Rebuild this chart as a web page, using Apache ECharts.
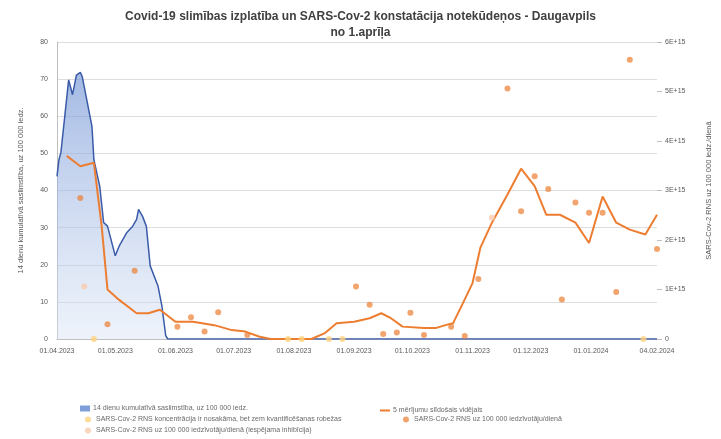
<!DOCTYPE html>
<html>
<head>
<meta charset="utf-8">
<script src="https://cdn.jsdelivr.net/npm/echarts@6/dist/echarts.min.js"></script>
<style>
  html, body { margin: 0; padding: 0; background: #fff; }
  #chart { width: 721px; height: 439px; }
</style>
</head>
<body>
<div id="chart"></div>
<script>
// x axis tick labels
const tickDates = ['2023-04-01', '2023-05-01', '2023-06-01', '2023-07-01', '2023-08-01', '2023-09-01',
  '2023-10-01', '2023-11-01', '2023-12-01', '2024-01-01', '2024-02-04'];

// 14 dienu kumulatīvā saslimstība (left axis)
const incidenceDates = ['2023-04-01', '2023-04-02', '2023-04-03', '2023-04-07', '2023-04-09', '2023-04-11',
  '2023-04-13', '2023-04-14', '2023-04-19', '2023-04-20', '2023-04-23', '2023-04-25', '2023-04-27',
  '2023-05-01', '2023-05-03', '2023-05-07', '2023-05-10', '2023-05-12', '2023-05-13', '2023-05-15',
  '2023-05-17', '2023-05-19', '2023-05-23', '2023-05-25', '2023-05-27', '2023-05-28', '2024-02-04'];
const incidenceValues = [43.8, 48.3, 50.2, 69.8, 65.8, 71.1, 71.8, 70.7, 57.3, 48.3, 41.2, 31.4, 30.4,
  22.4, 25.0, 28.7, 30.4, 32.2, 34.9, 33.1, 30.4, 19.7, 14.3, 8.9, 0.9, 0, 0];

// 5 mērījumu slīdošais vidējais (right axis)
const avgDates = ['2023-04-06', '2023-04-13', '2023-04-17', '2023-04-20', '2023-04-24', '2023-04-27',
  '2023-05-03', '2023-05-12', '2023-05-18', '2023-05-24', '2023-06-01', '2023-06-10', '2023-06-21',
  '2023-06-30', '2023-07-07', '2023-07-14', '2023-07-20', '2023-08-03', '2023-08-10', '2023-08-17',
  '2023-08-23', '2023-09-01', '2023-09-09', '2023-09-15', '2023-09-20', '2023-09-26', '2023-10-07',
  '2023-10-13', '2023-10-18', '2023-10-22', '2023-10-27', '2023-11-01', '2023-11-05', '2023-11-11',
  '2023-11-19', '2023-11-26', '2023-12-03', '2023-12-09', '2023-12-16', '2023-12-24', '2023-12-31',
  '2024-01-07', '2024-01-14', '2024-01-21', '2024-01-29', '2024-02-04'];
const avgValues = [3.70e15, 3.49e15, 3.53e15, 3.56e15, 2.28e15, 1.00e15, 0.79e15, 0.52e15, 0.52e15,
  0.59e15, 0.35e15, 0.35e15, 0.28e15, 0.18e15, 0.15e15, 0.05e15, 0, 0, 0, 0.12e15, 0.32e15, 0.35e15,
  0.42e15, 0.52e15, 0.42e15, 0.25e15, 0.22e15, 0.22e15, 0.28e15, 0.32e15, 0.72e15, 1.13e15, 1.84e15,
  2.35e15, 2.92e15, 3.44e15, 3.09e15, 2.51e15, 2.51e15, 2.35e15, 1.94e15, 2.88e15, 2.35e15, 2.21e15,
  2.11e15, 2.51e15];

// SARS-Cov-2 RNS uz 100 000 iedz./dienā (right axis)
const rnaDates = ['2023-04-13', '2023-04-27', '2023-05-11', '2023-06-02', '2023-06-09', '2023-06-16',
  '2023-06-23', '2023-07-08', '2023-09-02', '2023-09-09', '2023-09-16', '2023-09-23', '2023-09-30',
  '2023-10-07', '2023-10-21', '2023-10-28', '2023-11-04', '2023-11-19', '2023-11-26', '2023-12-03',
  '2023-12-10', '2023-12-17', '2023-12-24', '2023-12-31', '2024-01-07', '2024-01-14', '2024-01-21',
  '2024-02-04'];
const rnaValues = [2.85e15, 0.30e15, 1.38e15, 0.25e15, 0.44e15, 0.15e15, 0.54e15, 0.08e15, 1.06e15,
  0.69e15, 0.10e15, 0.13e15, 0.53e15, 0.08e15, 0.25e15, 0.06e15, 1.21e15, 5.06e15, 2.58e15, 3.29e15,
  3.03e15, 0.80e15, 2.76e15, 2.55e15, 2.55e15, 0.95e15, 5.64e15, 1.82e15];

// below quantification limit
const lowDates = ['2023-04-20', '2023-07-29', '2023-08-05', '2023-08-19', '2023-08-26', '2024-01-28'];
const lowValues = [0, 0, 0, 0, 0, 0];

// possible inhibition
const inhibDates = ['2023-04-15', '2023-11-11'];
const inhibValues = [1.06e15, 2.45e15];

const names = {
  incidence: '14 dienu kumulatīvā saslimstība, uz 100 000 iedz.',
  avg: '5 mērījumu slīdošais vidējais',
  low: 'SARS-Cov-2 RNS koncentrācija ir nosakāma, bet zem kvantificēšanas robežas',
  rna: 'SARS-Cov-2 RNS uz 100 000 iedzīvotāju/dienā',
  inhib: 'SARS-Cov-2 RNS uz 100 000 iedzīvotāju/dienā (iespējama inhibīcija)'
};

const pairs = (d, v) => d.map((x, i) => [x, v[i]]);
const font = 'Liberation Sans';
const grey = '#595959';

// one legend per entry, laid out like the original two-column block
const legendItem = (name, icon, left, top, h) => ({
  left, top, padding: 0, itemWidth: 10, itemHeight: h || 6, itemGap: 0,
  textStyle: { fontSize: 7, color: '#6a6a6a', padding: [0, 0, 0, -2] },
  data: [{ name, icon }]
});

const chart = echarts.init(document.getElementById('chart'));

chart.setOption({
  animation: false,
  textStyle: { fontFamily: font },
  title: {
    text: 'Covid-19 slimības izplatība un SARS-Cov-2 konstatācija notekūdeņos - Daugavpils\nno 1.aprīļa',
    left: 'center',
    top: 4,
    textStyle: { fontSize: 12, fontWeight: 'bold', color: '#404040', lineHeight: 16, fontFamily: font }
  },
  grid: { left: 57, right: 58, top: 42, bottom: 100 },
  legend: [
    legendItem(names.incidence, 'rect', 80, 405),
    legendItem(names.low, 'circle', 85, 416),
    legendItem(names.inhib, 'circle', 85, 427),
    legendItem(names.avg, 'rect', 380, 407, 2),
    legendItem(names.rna, 'circle', 403, 416)
  ],
  xAxis: {
    type: 'time',
    min: tickDates[0],
    max: tickDates[tickDates.length - 1],
    axisLine: { lineStyle: { color: '#bfbfbf' } },
    axisTick: { show: false },
    axisLabel: {
      customValues: tickDates.map(d => +new Date(d + 'T00:00:00')),
      formatter: '{dd}.{MM}.{yyyy}',
      fontSize: 7, color: grey, margin: 9, hideOverlap: false
    },
    splitLine: { show: false }
  },
  yAxis: [
    {
      type: 'value', min: 0, max: 80, interval: 10,
      name: names.incidence, nameLocation: 'middle', nameGap: 32,
      nameTextStyle: { fontSize: 7.5, color: grey },
      axisLine: { show: true, lineStyle: { color: '#bfbfbf' } },
      axisLabel: { fontSize: 7, color: grey, margin: 9 },
      splitLine: { lineStyle: { color: '#dedede' } }
    },
    {
      type: 'value', min: 0, max: 6e15, interval: 1e15, position: 'right',
      name: 'SARS-Cov-2 RNS uz 100 000 iedz./dienā', nameLocation: 'middle', nameGap: 48, nameRotate: 90,
      nameTextStyle: { fontSize: 7.5, color: grey },
      axisLine: { show: false },
      axisTick: { show: true, lineStyle: { color: '#bfbfbf' } },
      axisLabel: {
        fontSize: 7, color: grey, margin: 8,
        formatter: v => v === 0 ? '0' : Math.round(v / 1e15) + 'E+15'
      },
      splitLine: { show: false }
    }
  ],
  series: [
    {
      name: names.incidence, type: 'line', yAxisIndex: 0, symbol: 'none',
      data: pairs(incidenceDates, incidenceValues),
      lineStyle: { color: '#3a5ca8', width: 1.5 },
      itemStyle: { color: '#7f9fd8' },
      areaStyle: {
        color: new echarts.graphic.LinearGradient(0, 0, 0, 1, [
          { offset: 0, color: 'rgba(110,145,212,0.9)' },
          { offset: 1, color: 'rgba(214,226,245,0.6)' }
        ])
      },
      z: 1
    },
    {
      name: names.avg, type: 'line', yAxisIndex: 1, symbol: 'none',
      data: pairs(avgDates, avgValues),
      lineStyle: { color: '#ed7d31', width: 2 },
      itemStyle: { color: '#ed7d31' },
      z: 3
    },
    {
      name: names.rna, type: 'scatter', yAxisIndex: 1, symbolSize: 6,
      data: pairs(rnaDates, rnaValues),
      itemStyle: { color: '#ed7d31', opacity: 0.7 },
      z: 4
    },
    {
      name: names.low, type: 'scatter', yAxisIndex: 1, symbolSize: 6,
      data: pairs(lowDates, lowValues),
      itemStyle: { color: '#ffd27f', opacity: 0.8 },
      z: 4
    },
    {
      name: names.inhib, type: 'scatter', yAxisIndex: 1, symbolSize: 6,
      data: pairs(inhibDates, inhibValues),
      itemStyle: { color: '#f8cbad', opacity: 0.8 },
      z: 4
    }
  ]
});
</script>
</body>
</html>
